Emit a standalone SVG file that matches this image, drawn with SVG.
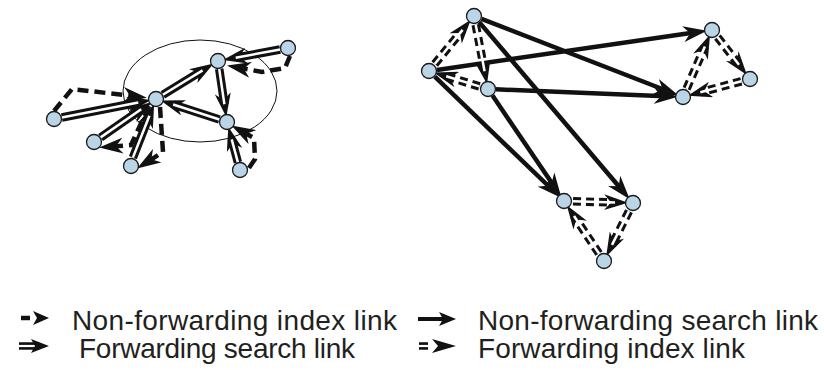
<svg xmlns="http://www.w3.org/2000/svg" width="824" height="370" viewBox="0 0 824 370">
<style>
.node circle{fill:#b9d5e6;stroke:#1a1a1a;stroke-width:1.3}
.sl{fill:none;stroke:#111;stroke-width:4.5;marker-end:url(#ah)}
.dl{fill:none;stroke:#111;stroke-width:4.5;stroke-dasharray:11 6;marker-end:url(#ah)}
.fb{fill:none;stroke:#111;stroke-width:8.5;marker-end:url(#ah)}
.fw{fill:none;stroke:#fff;stroke-width:2.5}
.ib{fill:none;stroke:#111;stroke-width:8.5;stroke-dasharray:8 5;marker-end:url(#ah)}
.iw{fill:none;stroke:#fff;stroke-width:2.5}
.lg{fill:#111}
.lgl{fill:none;stroke:#111}
text{font-family:"Liberation Sans",Arial,sans-serif;font-size:28px;fill:#231f20}
</style>
<defs>
<marker id="ah" viewBox="0 0 24 16" markerWidth="24" markerHeight="16" refX="11" refY="8" orient="auto" markerUnits="userSpaceOnUse"><path d="M0,0 L24,8 L0,16 L7,8 z" fill="#111"/></marker>
</defs>
<ellipse cx="200" cy="91" rx="77" ry="51" fill="none" stroke="#111" stroke-width="1"/>
<g id="connectors">
<!-- left cluster: forwarding search links -->
<path class="fb" d="M61.8,117.5 L138.3,102.5"/><path class="fw" d="M61.8,117.5 L138.3,102.5"/>
<path class="fb" d="M100.6,137.4 L141.2,109.3"/><path class="fw" d="M100.6,137.4 L141.2,109.3"/>
<path class="fb" d="M132.9,157.6 L149.4,115.8"/><path class="fw" d="M132.9,157.6 L149.4,115.8"/>
<path class="fb" d="M162.8,94.8 L202.6,70.4"/><path class="fw" d="M162.8,94.8 L202.6,70.4"/>
<path class="fb" d="M280.1,49.5 L235.7,57.7"/><path class="fw" d="M280.1,49.5 L235.7,57.7"/>
<path class="fb" d="M219.2,68.9 L224.4,104.2"/><path class="fw" d="M219.2,68.9 L224.4,104.2"/>
<path class="fb" d="M219.4,119.5 L173.1,104.5"/><path class="fw" d="M219.4,119.5 L173.1,104.5"/>
<path class="fb" d="M237.9,162.3 L231.7,139.4"/><path class="fw" d="M237.9,162.3 L231.7,139.4"/>
<!-- left cluster: non-forwarding index links -->
<path class="dl" d="M54,111 L72,89 L134,96.2"/>
<path class="dl" d="M149,106 L131,145 L112,146.5"/>
<path class="dl" d="M160,107 L163,152 L148,161.5"/>
<path class="dl" d="M290,56 L285,68 L262,72 L239.8,67.8"/>
<path class="dl" d="M249,168 L255,159 L254,138 L242.8,131.8"/>
<!-- right cluster: non-forwarding search links -->
<path class="sl" d="M436.9,69.9 L694.2,32.6"/>
<path class="sl" d="M481.5,18.9 L666.2,90.5"/>
<path class="sl" d="M496,89.3 L665,96.3"/>
<path class="sl" d="M479.2,22.1 L621.3,189.3"/>
<path class="sl" d="M434.8,76.6 L551,188.5"/>
<path class="sl" d="M492.5,95.6 L553.9,186.1"/>
<!-- right cluster: forwarding index links -->
<path class="ib" d="M434.7,64 L462.6,29.9"/><path class="iw" d="M434.7,64 L462.6,29.9"/>
<path class="ib" d="M475.7,24.8 L484.6,71.3"/><path class="iw" d="M475.7,24.8 L484.6,71.3"/>
<path class="ib" d="M479.4,86.4 L446.2,76.3"/><path class="iw" d="M479.4,86.4 L446.2,76.3"/>
<path class="ib" d="M686.6,88.7 L704.9,46.5"/><path class="iw" d="M686.6,88.7 L704.9,46.5"/>
<path class="ib" d="M717.5,37.1 L739,64.8"/><path class="iw" d="M717.5,37.1 L739,64.8"/>
<path class="ib" d="M741.3,81.3 L700.4,92.3"/><path class="iw" d="M741.3,81.3 L700.4,92.3"/>
<path class="ib" d="M573,201.3 L615,202.5"/><path class="iw" d="M573,201.3 L615,202.5"/>
<path class="ib" d="M629,211.1 L612,244.9"/><path class="iw" d="M629,211.1 L612,244.9"/>
<path class="ib" d="M599,253.5 L574,216"/><path class="iw" d="M599,253.5 L574,216"/>
</g>
<g id="nA" class="node"><circle cx="156" cy="99" r="7.5"/></g>
<g id="nB" class="node"><circle cx="218" cy="61" r="7.5"/></g>
<g id="nC" class="node"><circle cx="288" cy="48" r="7.5"/></g>
<g id="nD" class="node"><circle cx="227" cy="122" r="7.5"/></g>
<g id="nE" class="node"><circle cx="54" cy="119" r="7.5"/></g>
<g id="nF" class="node"><circle cx="94" cy="142" r="7.5"/></g>
<g id="nG" class="node"><circle cx="131" cy="166" r="7.5"/></g>
<g id="nH" class="node"><circle cx="240" cy="170" r="7.5"/></g>
<g id="nP" class="node"><circle cx="474" cy="16" r="7.5"/></g>
<g id="nQ" class="node"><circle cx="429" cy="71" r="7.5"/></g>
<g id="nR" class="node"><circle cx="488" cy="89" r="7.5"/></g>
<g id="nS" class="node"><circle cx="712" cy="30" r="7.5"/></g>
<g id="nT" class="node"><circle cx="750" cy="79" r="7.5"/></g>
<g id="nU" class="node"><circle cx="683" cy="97" r="7.5"/></g>
<g id="nV" class="node"><circle cx="564" cy="201" r="7.5"/></g>
<g id="nW" class="node"><circle cx="633" cy="203" r="7.5"/></g>
<g id="nX" class="node"><circle cx="604" cy="261" r="7.5"/></g>
<g id="legend">
<path class="lgl" stroke-width="4.5" d="M21,318 L30,318"/>
<path class="lg" d="M33,311 L49,318 L33,325 L37,318 z"/>
<text x="72" y="330" textLength="325">Non-forwarding index link</text>
<path class="lgl" stroke-width="4" d="M418,319 L446,319"/>
<path class="lg" d="M439,312 L456,319 L439,326 L443,319 z"/>
<text x="478" y="330" textLength="340">Non-forwarding search link</text>
<path class="lgl" stroke-width="7.5" d="M19,346 L37,346"/>
<path fill="none" stroke="#fff" stroke-width="2.2" d="M19,346 L36,346"/>
<path class="lg" d="M31,339 L49,346 L31,353 L35,346 z"/>
<text x="79" y="358" textLength="276">Forwarding search link</text>
<path class="lgl" stroke-width="7.5" d="M419,346 L428,346"/>
<path fill="none" stroke="#fff" stroke-width="2.2" d="M418,346 L429,346"/>
<path class="lg" d="M432,339 L456,346 L432,353 L438,346 z"/>
<text x="478" y="358" textLength="267">Forwarding index link</text>
</g>
</svg>
